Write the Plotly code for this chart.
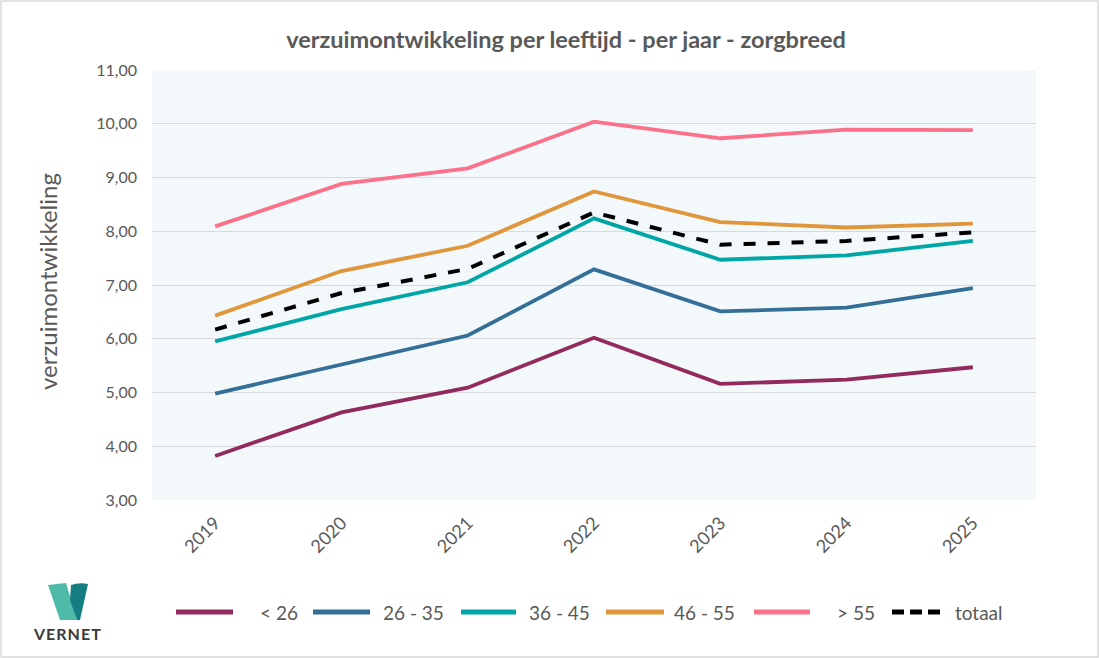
import plotly.graph_objects as go

years = ["2019", "2020", "2021", "2022", "2023", "2024", "2025"]
lt26 = [3.82, 4.63, 5.09, 6.02, 5.16, 5.24, 5.47]
a26_35 = [4.98, 5.52, 6.06, 7.29, 6.51, 6.58, 6.94]
a36_45 = [5.95, 6.55, 7.05, 8.24, 7.47, 7.55, 7.82]
a46_55 = [6.43, 7.26, 7.73, 8.74, 8.17, 8.07, 8.14]
gt55 = [8.09, 8.88, 9.17, 10.04, 9.73, 9.89, 9.88]
totaal = [6.17, 6.85, 7.30, 8.35, 7.75, 7.82, 7.98]

names = ["< 26", "26 - 35", "36 - 45", "46 - 55", "> 55", "totaal"]
series = [lt26, a26_35, a36_45, a46_55, gt55, totaal]
colors = ["#922A5B", "#336F96", "#00A6A6", "#E0963B", "#FA7189", "#000000"]
dashes = ["solid"] * 5 + ["dash"]

W, H = 1099, 658
L, R, T, B = 152, 63, 70, 158
FONT = "Lato, 'Open Sans', sans-serif"
GREY = "#595959"

fig = go.Figure()
for n, s, c, d in zip(names, series, colors, dashes):
    fig.add_trace(go.Scatter(
        x=years, y=s, name=n, mode="lines", showlegend=False,
        line=dict(color=c, width=4 if d == "dash" else 3.8, dash=d),
    ))

pw = W - L - R
ph = H - T - B
def px(x):
    return (x - L) / pw
def py(y):
    return (H - B - y) / ph

shapes = [
    dict(type="rect", xref="paper", yref="paper", x0=px(1), x1=px(W - 1), y0=py(H - 1), y1=py(1),
         line=dict(color="#D9D9D9", width=1.5), fillcolor="rgba(0,0,0,0)", layer="below"),
    dict(type="path", xref="paper", yref="paper",
         path=f"M {px(48)},{py(585)} L {px(66)},{py(583)} L {px(77)},{py(620)} L {px(60)},{py(620)} Z",
         fillcolor="#4DBBA8", line=dict(width=0)),
    dict(type="path", xref="paper", yref="paper",
         path=f"M {px(71)},{py(585)} Q {px(79)},{py(582)} {px(88)},{py(584)} L {px(80)},{py(620)} L {px(77)},{py(620)} L {px(70)},{py(600)} Z",
         fillcolor="#157E82", line=dict(width=0)),
]

annotations = [
    dict(text="<b>V\u200aE\u200aR\u200aN\u200aE\u200aT</b>", xref="paper", yref="paper", x=px(67), y=py(633),
         xanchor="center", yanchor="middle", showarrow=False,
         font=dict(size=16, color="#3A3A3A", family=FONT)),
    dict(text="verzuimontwikkeling", xref="paper", yref="paper", x=px(47), y=py(282),
         xanchor="center", yanchor="middle", showarrow=False, textangle=-90,
         font=dict(size=24, color=GREY, family=FONT)),
]

# manual legend (line segments + labels)
leg_y = 612
leg_lines = [(176, 233), (313, 370), (461, 516), (606, 664), (754, 810), (892, 946)]
leg_text_x = [258, 381, 527, 672, 835, 953]
for (x0, x1), tx, n, c, d in zip(leg_lines, leg_text_x, names, colors, dashes):
    if d == "solid":
        shapes.append(dict(type="line", xref="paper", yref="paper", x0=px(x0), x1=px(x1),
                           y0=py(leg_y), y1=py(leg_y), line=dict(color=c, width=5)))
    else:
        seg = (x1 - x0) / 3.0
        for k in range(3):
            a = x0 + k * seg
            shapes.append(dict(type="line", xref="paper", yref="paper", x0=px(a), x1=px(a + seg - 6),
                               y0=py(leg_y), y1=py(leg_y), line=dict(color=c, width=5)))
    annotations.append(dict(text=n, xref="paper", yref="paper", x=px(tx), y=py(leg_y),
                            xanchor="left", yanchor="middle", showarrow=False,
                            font=dict(size=19, color=GREY, family=FONT)))

fig.update_layout(
    width=W, height=H,
    margin=dict(l=L, r=R, t=T, b=B),
    paper_bgcolor="white",
    plot_bgcolor="#F3F8FB",
    separators=",.",
    font=dict(family=FONT, color=GREY),
    showlegend=False,
    title=dict(text="<b>verzuimontwikkeling per leeftijd - per jaar - zorgbreed</b>",
               x=566 / W, xanchor="center", y=1 - 40 / H, yanchor="middle",
               font=dict(size=23.5, color=GREY)),
    xaxis=dict(range=[-0.5, 6.5], tickangle=-45, showgrid=False, zeroline=False,
               tickfont=dict(size=18, color=GREY), ticks="", showline=False,
               ticklabelstandoff=8, automargin=False),
    yaxis=dict(range=[3, 11], dtick=1, tickformat=".2f", showgrid=True,
               gridcolor="#D9D9D9", gridwidth=1.3, zeroline=False,
               tickfont=dict(size=16, color=GREY), ticks="",
               ticklabelstandoff=14, automargin=False),
    shapes=shapes,
    annotations=annotations,
)

fig.write_html("out.html", config={"displayModeBar": False},
               post_script="document.body.style.margin='0';")
